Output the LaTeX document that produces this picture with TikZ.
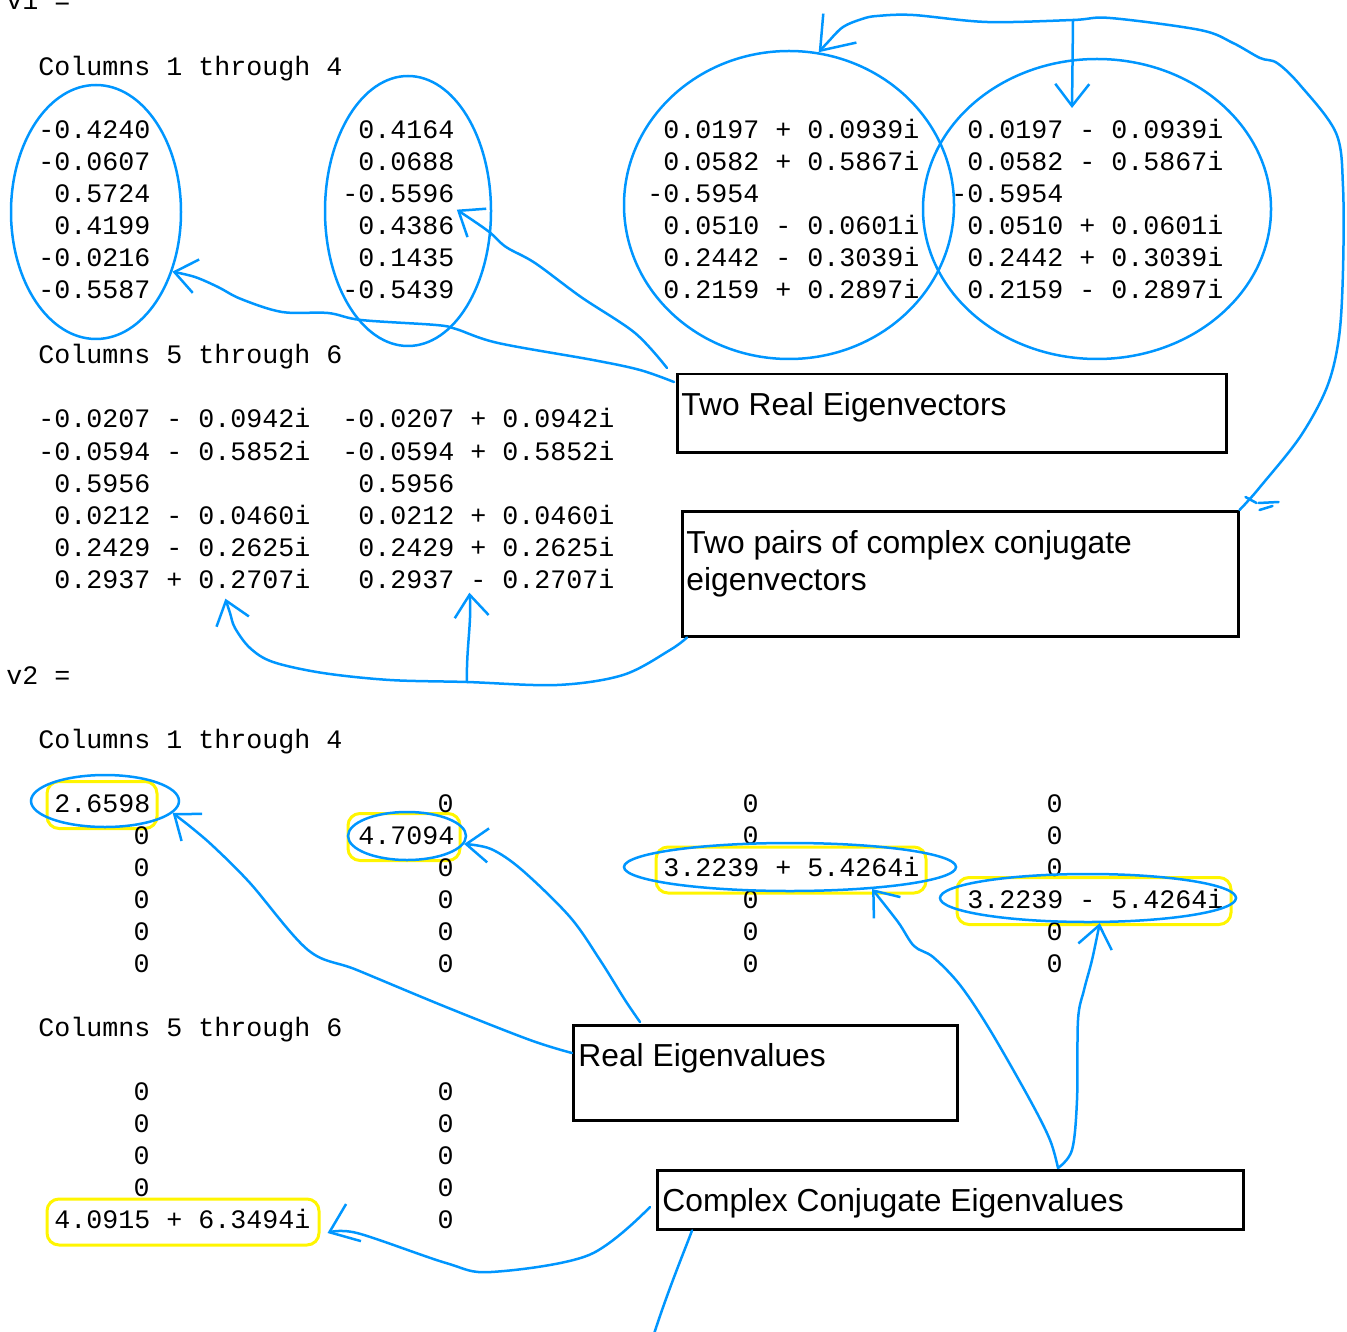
\documentclass[tikz,border=0pt]{standalone}
\usepackage{fontspec}
\setmainfont{Liberation Sans}
\setmonofont{Liberation Mono}
\usetikzlibrary{shapes.geometric,arrows.meta,calc}
\definecolor{ink}{RGB}{0,150,255}
\definecolor{marker}{RGB}{255,245,0}
\tikzset{>={Straight Barb[length=11pt,width=17pt]}}
\tikzset{
  num/.style={font=\ttfamily\fontsize{13.33pt}{16pt}\selectfont,inner sep=0pt,anchor=base west},
  hl/.style={draw=marker,line width=1.5pt,rounded corners=6pt,inner sep=0pt},
  ring/.style={ellipse,draw=ink,line width=1.25pt,inner sep=0pt},
  box/.style={draw=black,line width=1.25pt,inner sep=0pt,anchor=north west},
  lbl/.style={font=\fontsize{15.9pt}{18.5pt}\selectfont,inner sep=0pt,anchor=north west,align=left},
  conn/.style={draw=ink,line width=1.25pt,line cap=round,line join=round}
}

\begin{document}
\begin{tikzpicture}[x=0.5pt,y=-0.5pt]
    \useasboundingbox (0,0) rectangle (1347,1331);
    \node[hl,minimum width=55pt,minimum height=23.5pt] (h1) at (102,805) {};
    \node[hl,minimum width=56pt,minimum height=23.5pt] (h2) at (404,837) {};
    \node[hl,minimum width=135pt,minimum height=23pt] (h3) at (791,870) {};
    \node[hl,minimum width=137pt,minimum height=23.5pt] (h4) at (1094,901) {};
    \node[hl,minimum width=136pt,minimum height=23pt] (h5) at (183,1222) {};
    \node[num] (v1) at (6,10) {v1 =};
    \node[num] (cols1) at (38,76) {Columns 1 through 4};
    \foreach\e [count=\r] in {-0.4240,-0.0607,~0.5724,~0.4199,-0.0216,-0.5587}
     \node[num] (pa\r) at (38,107+32*\r) {\e};
    \foreach\e [count=\r] in {~0.4164,~0.0688,-0.5596,~0.4386,~0.1435,-0.5439}
     \node[num] (pb\r) at (342,107+32*\r) {\e};
    \foreach\e [count=\r] in {~0.0197 + 0.0939i,~0.0582 + 0.5867i,-0.5954,~0.0510 - 0.0601i,~0.2442 - 0.3039i,~0.2159 + 0.2897i}
     \node[num] (pc\r) at (647,107+32*\r) {\e};
    \foreach\e [count=\r] in {~0.0197 - 0.0939i,~0.0582 - 0.5867i,-0.5954,~0.0510 + 0.0601i,~0.2442 + 0.3039i,~0.2159 - 0.2897i}
     \node[num] (pd\r) at (951,107+32*\r) {\e};
    \node[num] (cols2) at (38,364) {Columns 5 through 6};
    \foreach\e [count=\r] in {-0.0207 - 0.0942i,-0.0594 - 0.5852i,~0.5956,~0.0212 - 0.0460i,~0.2429 - 0.2625i,~0.2937 + 0.2707i}
     \node[num] (pe\r) at (38,396+32*\r) {\e};
    \foreach\e [count=\r] in {-0.0207 + 0.0942i,-0.0594 + 0.5852i,~0.5956,~0.0212 + 0.0460i,~0.2429 + 0.2625i,~0.2937 - 0.2707i}
     \node[num] (pf\r) at (342,396+32*\r) {\e};
    \node[num] (v2) at (6,684) {v2 =};
    \node[num] (cols3) at (38,748) {Columns 1 through 4};
    \node[num] (qa1) at (38,812) {~2.6598};
    \foreach\r in {2,...,6}
     \node[num,anchor=base east] (qa\r) at (150,780+32*\r) {0};
    \node[num] (qb2) at (342,844) {~4.7094};
    \foreach\r in {1,3,4,5,6}
     \node[num,anchor=base east] (qb\r) at (454,780+32*\r) {0};
    \node[num] (qc3) at (647,876) {~3.2239 + 5.4264i};
    \foreach\r in {1,2,4,5,6}
     \node[num,anchor=base east] (qc\r) at (759,780+32*\r) {0};
    \node[num] (qd4) at (951,908) {~3.2239 - 5.4264i};
    \foreach\r in {1,2,3,5,6}
     \node[num,anchor=base east] (qd\r) at (1063,780+32*\r) {0};
    \node[num] (cols4) at (38,1036) {Columns 5 through 6};
    \foreach\r in {1,...,4}
     \node[num,anchor=base east] (qe\r) at (150,1068+32*\r) {0};
    \node[num] (qe5) at (38,1228) {~4.0915 + 6.3494i};
    \foreach\r in {1,...,5}
     \node[num,anchor=base east] (qf\r) at (454,1068+32*\r) {0};
    \node[ring,minimum width=85pt,minimum height=127pt] (e1) at (96,212) {};
    \node[ring,minimum width=83pt,minimum height=135pt] (e2) at (408,211) {};
    \node[ring,minimum width=165pt,minimum height=154pt] (e3) at (789,205) {};
    \node[ring,minimum width=174pt,minimum height=150pt] (e4) at (1097,209) {};
    \node[ring,minimum width=74pt,minimum height=26pt] (e5) at (105,801) {};
    \node[ring,minimum width=59pt,minimum height=24pt] (e6) at (407,836) {};
    \node[ring,minimum width=166pt,minimum height=24pt] (e7) at (790,867) {};
    \node[ring,minimum width=148pt,minimum height=24pt] (e8) at (1088,898) {};
    \node[box,minimum width=274.5pt,minimum height=39pt] (boxA) at (676,373) {};
    \node[box,minimum width=278pt,minimum height=62.5pt] (boxB) at (681,510) {};
    \node[box,minimum width=192pt,minimum height=47.5pt] (boxC) at (572,1024) {};
    \node[box,minimum width=293pt,minimum height=29.5pt] (boxD) at (656,1169) {};
    \node[lbl] (tA) at ($(boxA.north west)+(5,19)$) {Two Real Eigenvectors};
    \node[lbl] (tB) at ($(boxB.north west)+(5,20)$) {Two pairs of complex conjugate\\eigenvectors};
    \node[lbl] (tC) at ($(boxC.north west)+(6,19)$) {Real Eigenvalues};
    \node[lbl] (tD) at ($(boxD.north west)+(6,19)$) {Complex Conjugate Eigenvalues};
    \coordinate (a1) at ($(boxA.north west)+(-2,9)$);
    \coordinate (a2) at ($(boxA.north west)+(-9,-5)$);
    \coordinate (tipb) at ($(pb3.south east)+(2,6)$);
    \coordinate (fork) at (1073,20);
    \coordinate (tipd) at ($(e4.center)+(-25,-101)$);
    \coordinate (b1) at ($(boxB.south west)+(6,0)$);
    \coordinate (split) at (467,682);
    \coordinate (tipe) at ($(pe6.south)+(51,10)$);
    \coordinate (tipf) at ($(pf6.south)+(-9,4)$);
    \coordinate (c1) at ($(boxC.north west)+(0,29)$);
    \coordinate (c2) at ($(boxC.north west)+(68,-2)$);
    \coordinate (d1) at ($(boxD.north west)+(402,-1)$);
    \coordinate (d2) at ($(boxD.north west)+(-6,38)$);
    \coordinate (d3) at ($(boxD.south west)+(36,0)$);
    \coordinate (tiph) at ($(h5.east)+(7,11)$);
    \coordinate (offpage) at (652,1340);
    \draw[conn,->] plot[smooth,tension=0.55] coordinates {(a1) (640,370) (593,360) (498,343) (456,329) (436,325) (361,320) (328,313) (282,312) (241,299) (218,287) (195,277) (e1.-38)};
    \draw[conn,->] plot[smooth,tension=0.55] coordinates {(a2) (635,333) (581,297) (535,263) (506,247) (488,231) (tipb)};
    \draw[conn,-{Straight Barb[length=15pt,width=22pt]}] plot[smooth,tension=0.55] coordinates {(boxB.north east) (1247,502) (1260,487) (1300,437) (1327,387) (1339,337) (1343,270) (1343,187) (1336,133) (1300,85) (1277,63) (1260,58) (1233,43) (1200,30) (1110,18) (fork) (987,22) (913,15) (877,16) (862,19) (843,27) (828,42) (e3.79)};
    \draw[conn,->] (fork) -- (tipd);
    \draw[conn] ($(boxB.north east)+(6,-13)$) -- ++(11,6);
    \draw[conn] ($(boxB.north east)+(19,-7)$) -- ++(20,-1);
    \draw[conn] ($(boxB.north east)+(20,0)$) -- ++(13,-4);
    \draw[conn,->] plot[smooth,tension=0.55] coordinates {(b1) (670,650) (623,675) (557,685) (split) (390,680) (323,673) (273,662) (250,648) (235,628) (230,613) (tipe)};
    \draw[conn,->] (split) .. controls (466,650) and (472,620) .. (tipf);
    \draw[conn,->] plot[smooth,tension=0.55] coordinates {(c1) (530,1040) (446,1007) (357,970) (308,950) (250,883) (214,847) (192,828) (e5.-10)};
    \draw[conn,->] plot[smooth,tension=0.55] coordinates {(c2) (625,1000) (600,960) (570,917) (522,870) (491,849) (e6.-8)};
    \draw[conn,->] plot[smooth,tension=0.55] coordinates {(d1) (1050,1140) (1030,1100) (990,1030) (960,985) (933,957) (914,946) (898,922) (e7.-15)};
    \draw[conn,->] plot[smooth,tension=0.55] coordinates {(d1) (1072,1150) (1077,1100) (1078,1020) (1084,990) (1092,960) (e8.-65)};
    \draw[conn,-{Straight Barb[length=13pt,width=20pt]}] plot[smooth,tension=0.55] coordinates {(d2) (589,1255) (491,1272) (446,1263) (357,1233) (tiph)};
    \draw[conn] (d3) .. controls (684,1252) and (668,1290) .. (offpage);
\end{tikzpicture}
\end{document}
